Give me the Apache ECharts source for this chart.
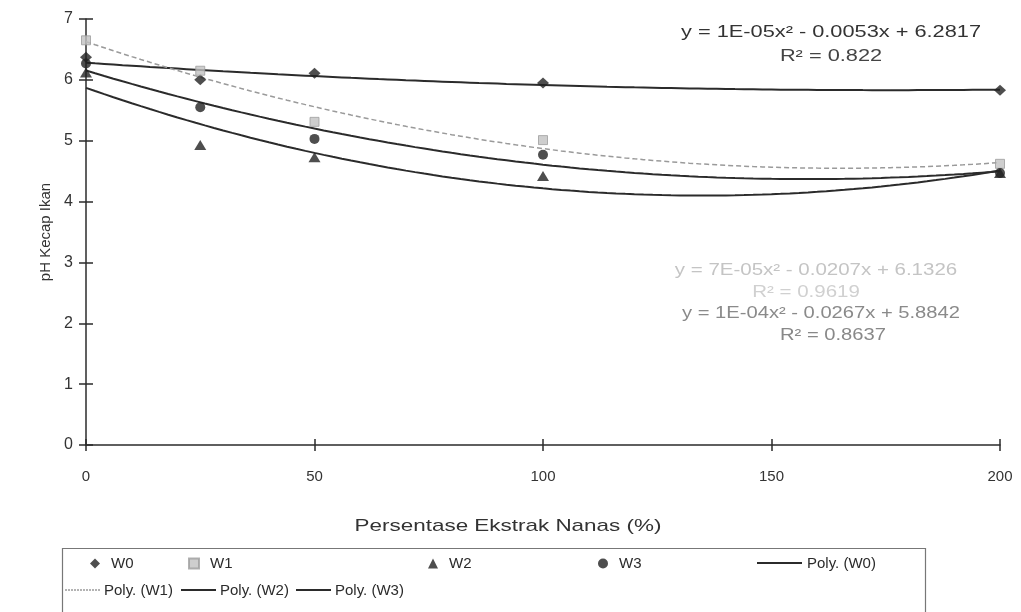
<!DOCTYPE html>
<html>
<head>
<meta charset="utf-8">
<script src="https://cdn.jsdelivr.net/npm/echarts@6/dist/echarts.min.js"></script>
<style>
  html, body { margin: 0; padding: 0; background: #fff; }
  #chart { width: 1021px; height: 612px; }
</style>
</head>
<body>
<div id="chart"></div>
<script>
// pH of fish sauce against pineapple extract percentage
const extractPct = [0, 25, 50, 100, 200];
const phW0 = [6.37, 6.00, 6.11, 5.95, 5.83];
const phW1 = [6.65, 6.15, 5.31, 5.01, 4.62];
const phW2 = [6.12, 4.93, 4.73, 4.42, 4.47];
const phW3 = [6.27, 5.55, 5.03, 4.77, 4.47];

const xTicks = [0, 50, 100, 150, 200];
const yTicks = [0, 1, 2, 3, 4, 5, 6, 7];

const eqW0 = ['y = 1E-05x² - 0.0053x + 6.2817', 'R² = 0.822'];
const eqW3 = 'y = 7E-05x² - 0.0207x + 6.1326';
const eqW2 = ['y = 1E-04x² - 0.0267x + 5.8842', 'R² = 0.8637'];

// least-squares quadratic fit (order-2 polynomial trendline)
function quadFit(xs, ys) {
  let S = [0, 0, 0, 0, 0], T = [0, 0, 0];
  xs.forEach((x, i) => {
    for (let k = 0; k < 5; k++) S[k] += Math.pow(x, k);
    for (let k = 0; k < 3; k++) T[k] += Math.pow(x, k) * ys[i];
  });
  const M = [[S[0], S[1], S[2], T[0]], [S[1], S[2], S[3], T[1]], [S[2], S[3], S[4], T[2]]];
  for (let c = 0; c < 3; c++) {
    for (let r = c + 1; r < 3; r++) {
      const f = M[r][c] / M[c][c];
      for (let k = c; k < 4; k++) M[r][k] -= f * M[c][k];
    }
  }
  const p = [0, 0, 0];
  for (let r = 2; r >= 0; r--) {
    let s = M[r][3];
    for (let k = r + 1; k < 3; k++) s -= M[r][k] * p[k];
    p[r] = s / M[r][r];
  }
  return p; // [a, b, c] for a + b x + c x^2
}
function evalFit(p, x) { return p[0] + p[1] * x + p[2] * x * x; }
function rSquared(p, xs, ys) {
  const mean = ys.reduce((s, v) => s + v, 0) / ys.length;
  let ssr = 0, sst = 0;
  xs.forEach((x, i) => { ssr += Math.pow(ys[i] - evalFit(p, x), 2); sst += Math.pow(ys[i] - mean, 2); });
  return 1 - ssr / sst;
}
function trend(ys) {
  const p = quadFit(extractPct, ys);
  const pts = [];
  for (let x = 0; x <= 200; x += 2) pts.push([x, evalFit(p, x)]);
  return pts;
}
const r2W3 = rSquared(quadFit(extractPct, phW3), extractPct, phW3);

const pairs = ys => extractPct.map((x, i) => [x, ys[i]]);
const FONT = '"Liberation Sans", Arial, sans-serif';
const DARK = '#2b2b2b';
const W1_GREY = '#9a9a9a';

const chart = echarts.init(document.getElementById('chart'));

function eqText(x, y, text, color, sx) {
  return {
    type: 'text', x: x, y: y, scaleX: sx, z: 10,
    style: { text: text, fill: color, font: '16px ' + FONT, align: 'center', verticalAlign: 'middle' }
  };
}

// one legend block per entry so each can sit in its own column
function oneLegend(name, left, top, w, h, isLine) {
  return {
    data: [isLine ? { name: name, icon: 'none' } : name],
    left: left, top: top, padding: 0, itemWidth: w, itemHeight: h,
    selectedMode: false, itemGap: 0,
    textStyle: { fontFamily: FONT, fontSize: 15, color: DARK, padding: [0, 0, 0, isLine ? -2 : 6] }
  };
}

// short line sample drawn beside a trendline legend entry
function legendSwatch(x1, x2, y, color, dash) {
  return {
    type: 'line', z: 20,
    shape: { x1: x1, y1: y, x2: x2, y2: y },
    style: { stroke: color, lineWidth: dash ? 1.5 : 2, lineDash: dash || null }
  };
}

const option = {
  backgroundColor: '#ffffff',
  animation: false,
  grid: { left: 86, right: 21, top: 19, bottom: 167 },
  xAxis: [{
    type: 'value', min: 0, max: 200, interval: 50,
    axisLine: { lineStyle: { color: DARK, width: 1.5 } },
    axisTick: { length: 6, lineStyle: { color: DARK, width: 1.5 } },
    axisLabel: { margin: 24, fontFamily: FONT, fontSize: 15, color: '#333',
      formatter: v => xTicks.includes(v) ? String(v) : '' },
    splitLine: { show: false }
  }, {
    type: 'value', min: 0, max: 200, interval: 50, position: 'bottom', offset: 0,
    axisLine: { show: false },
    axisTick: { inside: true, length: 6, lineStyle: { color: DARK, width: 1.5 } },
    axisLabel: { show: false }, splitLine: { show: false }
  }],
  yAxis: [{
    type: 'value', min: 0, max: 7, interval: 1,
    name: 'pH Kecap Ikan', nameLocation: 'middle', nameGap: 32, nameRotate: 90,
    nameTextStyle: { fontFamily: FONT, fontSize: 15, color: '#333' },
    axisLine: { show: true, lineStyle: { color: DARK, width: 1.5 } },
    axisTick: { show: true, length: 7, lineStyle: { color: DARK, width: 1.5 } },
    axisLabel: { margin: 13, fontFamily: FONT, fontSize: 16, color: '#333',
      formatter: v => yTicks.includes(v) ? String(v) : '' },
    splitLine: { show: false }
  }, {
    type: 'value', min: 0, max: 7, interval: 1, position: 'left', offset: 0,
    axisLine: { show: false },
    axisTick: { show: true, inside: true, length: 7, lineStyle: { color: DARK, width: 1.5 } },
    axisLabel: { show: false }, splitLine: { show: false }
  }],
  legend: [
    oneLegend('W0', 90, 556, 10, 10, false),
    oneLegend('W1', 188, 556, 10, 10, false),
    oneLegend('W2', 428, 556, 10, 10, false),
    oneLegend('W3', 598, 556, 10, 10, false),
    oneLegend('Poly. (W0)', 759, 556, 45, 10, true),
    oneLegend('Poly. (W1)', 64, 583, 37, 10, true),
    oneLegend('Poly. (W2)', 180, 583, 37, 10, true),
    oneLegend('Poly. (W3)', 295, 583, 37, 10, true)
  ],
  graphic: [
    { type: 'rect', shape: { x: 62.5, y: 548.5, width: 863, height: 80 },
      style: { fill: 'none', stroke: '#777', lineWidth: 1.2 } },
    legendSwatch(757, 802, 563, DARK),
    legendSwatch(65, 100, 590, W1_GREY, [2, 1]),
    legendSwatch(181, 216, 590, DARK),
    legendSwatch(296, 331, 590, DARK),
    { type: 'text', x: 508, y: 526, scaleX: 1.32, style: { text: 'Persentase Ekstrak Nanas (%)',
      fill: '#333', font: '17px ' + FONT, align: 'center', verticalAlign: 'middle' } },
    eqText(831, 33, eqW0[0], '#333', 1.36),
    eqText(831, 57, eqW0[1], '#444', 1.36),
    eqText(816, 271, eqW3, '#c4c4c4', 1.28),
    eqText(806, 293, 'R² = ' + r2W3.toFixed(4), '#d0d0d0', 1.28),
    eqText(821, 314, eqW2[0], '#8a8a8a', 1.26),
    eqText(833, 336, eqW2[1], '#888', 1.26)
  ],
  series: [
    { name: 'Poly. (W0)', type: 'line', data: trend(phW0), showSymbol: false, symbol: 'none',
      lineStyle: { color: DARK, width: 2 }, itemStyle: { color: DARK }, z: 2 },
    { name: 'Poly. (W1)', type: 'line', data: trend(phW1), showSymbol: false, symbol: 'none',
      lineStyle: { color: W1_GREY, width: 1.5, type: [5, 3] }, itemStyle: { color: W1_GREY }, z: 2 },
    { name: 'Poly. (W2)', type: 'line', data: trend(phW2), showSymbol: false, symbol: 'none',
      lineStyle: { color: DARK, width: 2 }, itemStyle: { color: DARK }, z: 2 },
    { name: 'Poly. (W3)', type: 'line', data: trend(phW3), showSymbol: false, symbol: 'none',
      lineStyle: { color: DARK, width: 2 }, itemStyle: { color: DARK }, z: 2 },
    { name: 'W0', type: 'scatter', data: pairs(phW0), symbol: 'diamond', symbolSize: [12, 11],
      itemStyle: { color: '#222' }, z: 5 },
    { name: 'W1', type: 'scatter', data: pairs(phW1), symbol: 'rect', symbolSize: 9,
      itemStyle: { color: '#c2c2c2', borderColor: '#9d9d9d', borderWidth: 1 }, z: 5 },
    { name: 'W2', type: 'scatter', data: pairs(phW2), symbol: 'triangle', symbolSize: [12, 10],
      itemStyle: { color: '#222' }, z: 5 },
    { name: 'W3', type: 'scatter', data: pairs(phW3), symbol: 'circle', symbolSize: 10,
      itemStyle: { color: '#222' }, z: 5 }
  ]
};
chart.setOption(option);
</script>
</body>
</html>
